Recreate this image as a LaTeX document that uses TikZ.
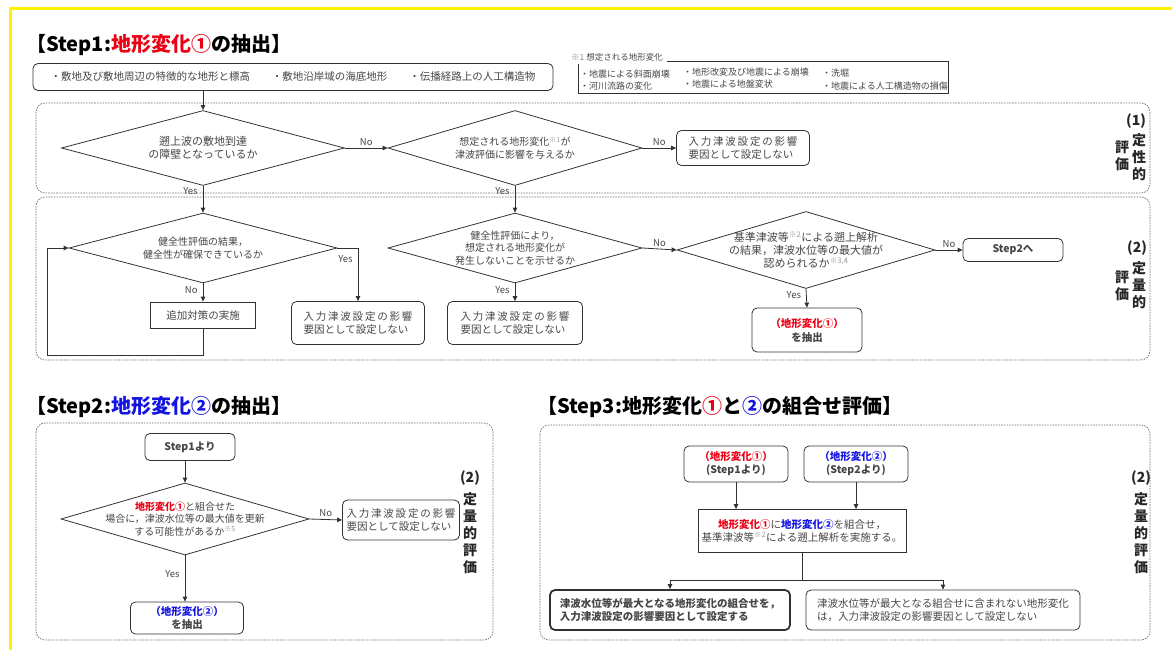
\documentclass[tikz,border=0pt]{standalone}
\usepackage{fontspec}
\setmainfont{Noto Sans CJK JP}
\usepackage{tikz}
\usetikzlibrary{arrows.meta,positioning,shapes.geometric}
\definecolor{henkaR}{RGB}{235,0,20}
\definecolor{henkaB}{RGB}{20,20,225}
\definecolor{waku}{RGB}{50,50,50}
\definecolor{moji}{RGB}{70,70,70}
\definecolor{kiiro}{RGB}{255,242,0}
\newcommand{\kome}[1]{\textcolor{black!40}{\textsuperscript{※#1}}}
\newcommand{\settei}{{\addfontfeatures{LetterSpace=17}入力津波設定の影響}\\要因として設定しない}

\begin{document}
\begin{tikzpicture}[x=1pt,y=-1pt,
  kado/.style={draw=waku,line width=0.8pt,rounded corners=5pt,inner sep=3pt,align=left,text=moji,font=\fontsize{10.5}{13}\selectfont},
  shikaku/.style={draw=waku,line width=0.8pt,inner sep=3pt,align=center,text=moji,font=\fontsize{10.5}{13}\selectfont},
  hishi/.style={draw=waku,line width=0.8pt,diamond,aspect=3.4,inner xsep=-50pt,inner ysep=-15pt,align=center,text=moji,font=\fontsize{10}{12.5}\selectfont},
  yaji/.style={draw=waku,line width=0.8pt,-{Triangle[length=5pt,width=4.5pt]}},
  sen/.style={draw=waku,line width=0.8pt},
  tensen/.style={draw=black!55,line width=0.7pt,dash pattern=on 1.6pt off 1.1pt,rounded corners=9pt},
  yn/.style={font=\fontsize{9.5}{11}\selectfont,text=moji,inner sep=2pt},
  midashi/.style={anchor=west,inner sep=0pt,font=\fontsize{20}{22}\selectfont\bfseries},
  hyoka/.style={align=center,inner sep=0pt,font=\fontsize{14}{17}\selectfont\bfseries,text=black!85}]
  \useasboundingbox (0,0) rectangle (1172,650);
  % 外枠(黄色の線は上と左だけ)
  \draw[kiiro,line width=3pt] (10,650) -- (10,9) -- (1172,9);

  % ===== Step1 =====
  \node[midashi] (midashi1) at (26,45) {【Step1:\textcolor{henkaR}{地形変化①}の抽出】};
  \node[kado,align=center,minimum width=520pt,minimum height=27pt,font=\fontsize{10.5}{12}\selectfont] (kihon) at (293,77)
    {・敷地及び敷地周辺の特徴的な地形と標高\hspace{22pt}・敷地沿岸域の海底地形\hspace{22pt}・伝播経路上の人工構造物};
  % 注記※1(想定される地形変化)
  \node[anchor=west,inner sep=0pt,text=moji,font=\fontsize{8.5}{9}\selectfont] (chui) at (571,57) {\textcolor{black!45}{※1} 想定される地形変化};
  \draw[sen] (chui.east |- 0,61) ++(4,0) -- (948,61) -- (948,93) -- (578,93) -- (578,64);
  \foreach \x/\y/\t [count=\i] in {580/74/地震による斜面崩壊,683/72/地形改変及び地震による崩壊,822/73/洗堀,
                                   580/86/河川流路の変化,683/84/地震による地盤変状,822/86/地震による人工構造物の損傷}
    \node[anchor=west,inner sep=0pt,text=moji,font=\fontsize{9}{9}\selectfont] (chui\i) at (\x,\y) {・\t};

  % (1)定性的評価・(2)定量的評価の点線枠
  \draw[tensen] (36,103) rectangle (1150,193);
  \draw[tensen] (36,197) rectangle (1150,360);
  \node[hyoka] (hyoka1a) at (1136,121) {(1)};
  \node[hyoka] (hyoka1b) at (1139,157) {定\\性\\的};
  \node[hyoka] (hyoka1c) at (1122,156) {評\\価};
  \node[hyoka] (hyoka2a) at (1137,248) {(2)};
  \node[hyoka] (hyoka2b) at (1139,285) {定\\量\\的};
  \node[hyoka] (hyoka2c) at (1122,286) {評\\価};

  % 判定(ひし形)と結果の箱
  \node[hishi,font=\fontsize{11}{13}\selectfont,minimum width=283pt,minimum height=75pt] (hishi1) at (203,148) {遡上波の敷地到達\\の障壁となっているか};
  \node[hishi,minimum width=254pt,minimum height=75pt] (hishi2) at (515,148) {想定される地形変化\kome{1}が\\津波評価に影響を与えるか};
  \node[kado,minimum width=133pt,minimum height=35pt] (settei1) at (743,148) {\settei};
  \node[hishi,minimum width=268pt,minimum height=70pt] (hishi3) at (203,248) {健全性評価の結果，\\健全性が確保できているか};
  \node[shikaku,minimum width=105pt,minimum height=26pt] (taisaku) at (203,315) {追加対策の実施};
  \node[kado,minimum width=133pt,minimum height=43pt] (settei2) at (358,323) {\settei};
  \node[hishi,minimum width=254pt,minimum height=70pt] (hishi4) at (515,248) {健全性評価により，\\想定される地形変化が\\発生しないことを示せるか};
  \node[kado,minimum width=135pt,minimum height=43pt] (settei3) at (515,323) {\settei};
  \node[hishi,font=\fontsize{11}{13}\selectfont,minimum width=258pt,minimum height=77pt] (hishi5) at (806,250) {基準津波等\kome{2}による遡上解析\\の結果，津波水位等の最大値が\\認められるか\kome{3,4}};
  \node[kado,align=center,minimum width=100pt,minimum height=23pt,font=\fontsize{10.5}{13}\selectfont\bfseries] (step2he) at (1013,250) {Step2へ};
  \node[kado,align=center,minimum width=110pt,minimum height=44pt,font=\fontsize{10.5}{14}\selectfont\bfseries] (chushutsu1) at (807,330) {\textcolor{henkaR}{（地形変化①）}\\を抽出};

  % 矢印
  \draw[yaji] (hishi1.north |- kihon.south) -- (hishi1.north);
  \draw[yaji] (hishi1.east) -- (hishi2.west) node[yn,midway,above] {No};
  \draw[yaji] (hishi2.east) -- (settei1.west) node[yn,midway,above] {No};
  \draw[yaji] (hishi1.south) -- (hishi3.north) node[yn,pos=0.2,left=3pt] {Yes};
  \draw[yaji] (hishi2.south) -- (hishi4.north) node[yn,pos=0.2,left=3pt] {Yes};
  \draw[yaji] (hishi3.east) -| (settei2.north) node[yn,pos=0.6,left=3pt] {Yes};
  \draw[yaji] (hishi3.south) -- (taisaku.north) node[yn,pos=0.35,left=3pt] {No};
  \coordinate (modori) at (47,355);
  \draw[yaji] (taisaku.south) |- (modori) |- (hishi3.west);
  \draw[yaji] (hishi4.south) -- (settei3.north) node[yn,pos=0.35,left=3pt] {Yes};
  \draw[yaji] (hishi4.east) -- (hishi5.west) node[yn,midway,above] {No};
  \draw[yaji] (hishi5.east) -- (step2he.west) node[yn,midway,above] {No};
  \draw[yaji] (hishi5.south) -- (chushutsu1.north) node[yn,pos=0.35,left=3pt] {Yes};

  % ===== Step2 =====
  \node[midashi] (midashi2) at (26,407) {【Step2:\textcolor{henkaB}{地形変化②}の抽出】};
  \draw[tensen] (36,423) rectangle (493,640);
  \node[hyoka] (hyoka3a) at (470,478) {(2)};
  \node[hyoka] (hyoka3b) at (470,533) {定\\量\\的\\評\\価};
  \node[kado,align=center,minimum width=90pt,minimum height=27pt,font=\fontsize{10.5}{13}\selectfont\bfseries] (kara1) at (190,447) {Step1より};
  \node[hishi,minimum width=248pt,minimum height=72pt] (hishi6) at (185,519)
    {\textcolor{henkaR}{\bfseries 地形変化①}と組合せた\\場合に，津波水位等の最大値を更新\\する可能性があるか\kome{5}};
  \node[kado,minimum width=117pt,minimum height=40pt] (settei4) at (401,520) {\settei};
  \node[kado,align=center,minimum width=113pt,minimum height=32pt,font=\fontsize{10.5}{13}\selectfont\bfseries] (chushutsu2) at (187,618) {\textcolor{henkaB}{（地形変化②）}\\を抽出};
  \draw[yaji] (kara1.south -| hishi6.north) -- (hishi6.north);
  \draw[yaji] (hishi6.east) -- (settei4.west) node[yn,midway,above] {No};
  \draw[yaji] (hishi6.south) -- (chushutsu2.north -| hishi6.south) node[yn,pos=0.4,left=3pt] {Yes};

  % ===== Step3 =====
  \node[midashi] (midashi3) at (537,407) {【Step3:地形変化\textcolor{henkaR}{①}と\textcolor{henkaB}{②}の組合せ評価】};
  \draw[tensen] (540,425) rectangle (1150,640);
  \node[hyoka] (hyoka4a) at (1141,478) {(2)};
  \node[hyoka] (hyoka4b) at (1141,533) {定\\量\\的\\評\\価};
  \node[kado,align=center,minimum width=104pt,minimum height=36pt,font=\fontsize{10.5}{13}\selectfont\bfseries] (kumiA) at (736,464) {\textcolor{henkaR}{（地形変化①）}\\(Step1より)};
  \node[kado,align=center,minimum width=104pt,minimum height=36pt,font=\fontsize{10.5}{13}\selectfont\bfseries] (kumiB) at (856,464) {\textcolor{henkaB}{（地形変化②）}\\(Step2より)};
  \node[shikaku,minimum width=208pt,minimum height=43pt] (gattai) at (802,531)
    {\textcolor{henkaR}{\bfseries 地形変化①}に\textcolor{henkaB}{\bfseries 地形変化②}を組合せ，\\基準津波等\kome{2}による遡上解析を実施する。};
  \node[kado,line width=1.8pt,minimum width=240pt,minimum height=40pt,font=\fontsize{10.5}{13}\selectfont\bfseries] (kekka1) at (670,610)
    {津波水位等が最大となる地形変化の組合せを，\\入力津波設定の影響要因として設定する};
  \node[kado,minimum width=274pt,minimum height=40pt] (kekka2) at (943,610)
    {津波水位等が最大となる組合せに含まれない地形変化\\は，入力津波設定の影響要因として設定しない};
  \coordinate (bunki) at (802,580);
  \draw[yaji] (kumiA.south) -- (kumiA.south |- gattai.north);
  \draw[yaji] (kumiB.south) -- (kumiB.south |- gattai.north);
  \draw[sen] (gattai.south) -- (bunki);
  \draw[yaji] (bunki) -| (kekka1.north);
  \draw[yaji] (bunki) -| (kekka2.north);
\end{tikzpicture}
\end{document}
